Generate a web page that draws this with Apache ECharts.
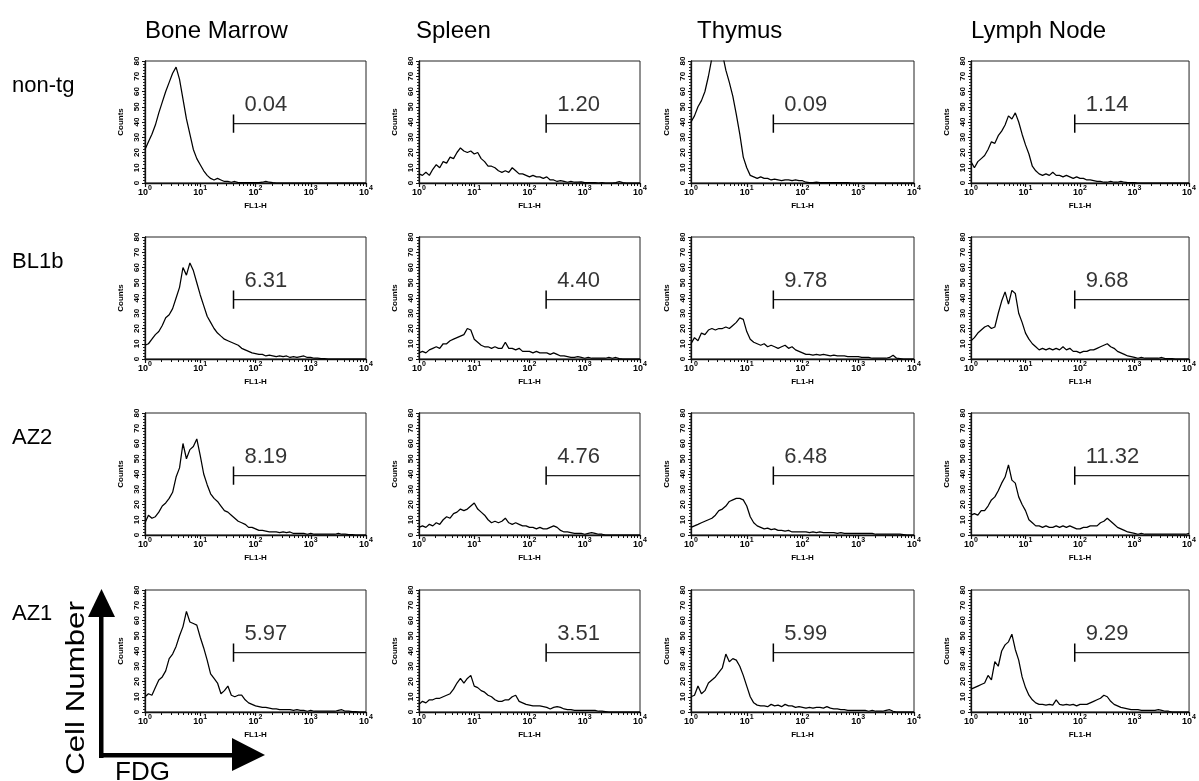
<!DOCTYPE html>
<html><head><meta charset="utf-8">
<script src="https://cdn.jsdelivr.net/npm/echarts@6/dist/echarts.min.js"></script>
<style>html,body{margin:0;padding:0;background:#fff}#c{width:1199px;height:781px}</style>
</head><body><div id="c"></div>
<script>
// FL1-H channel positions (log scale, 16 bins per decade)
const BINS = [
  1, 1.155, 1.334, 1.540, 1.778, 2.054, 2.371, 2.738, 3.162, 3.652, 4.217, 4.870, 5.623, 6.494, 7.499, 8.660,
  10, 11.55, 13.34, 15.40, 17.78, 20.54, 23.71, 27.38, 31.62, 36.52, 42.17, 48.70, 56.23, 64.94, 74.99, 86.60,
  100, 115.5, 133.4, 154.0, 177.8, 205.4, 237.1, 273.8, 316.2, 365.2, 421.7, 487.0, 562.3, 649.4, 749.9, 866.0,
  1000, 1155, 1334, 1540, 1778, 2054, 2371, 2738, 3162, 3652, 4217, 4870, 5623, 6494, 7499, 8660, 10000
];
const TISSUES = ['Bone Marrow', 'Spleen', 'Thymus', 'Lymph Node'];
const LINES = ['non-tg', 'BL1b', 'AZ2', 'AZ1'];
const GATE_PCT = [
  ['0.04', '1.20', '0.09', '1.14'],
  ['6.31', '4.40', '9.78', '9.68'],
  ['8.19', '4.76', '6.48', '11.32'],
  ['5.97', '3.51', '5.99', '9.29']
];
const GATE_START = [40, 200, 30, 80];
const GATE_LEVEL = 39;
const GATE_TICK_HALF = 6;
const X_MAJOR = [1, 10, 100, 1000, 10000];
const X_MINOR = [2,3,4,5,6,7,8,9, 20,30,40,50,60,70,80,90, 200,300,400,500,600,700,800,900, 2000,3000,4000,5000,6000,7000,8000,9000];
const Y_MIN = 0, Y_MAX = 80, Y_STEP = 10;

// Counts per bin, row = mouse line, column = tissue
const bmNonTg = [22,27,32,38,46,53,60,66,72,76,68,55,42,32,22,16, 12,8,5,3,2,3,2,1,1,0.5,1,0.3,0.3,0.2,0.3,0.2, 0.2,0.3,0.5,1,0.5,0.2,0,0,0,0,0,0,0,0,0,0, 0,0,0,0,0,0,0,0,0,0,0,0,0,0,0,0,0];
const spNonTg = [6,5,7,5,9,12,10,14,13,17,16,20,23,21,20,21, 19,20,16,14,11,11,10,8,7,8,7,10,8,6,6,5, 4,5,4,4,3,4,2,2,1,1.5,1,0.5,1,0.5,0.5,0.8, 0.3,0.2,0.2,0.2,0,0.2,0,0,0,0.3,1,0.3,0,0,0,0,0];
const thNonTg = [40,44,50,54,60,70,82,86,84,85,74,66,57,45,32,17, 10,5,4,3,4,3,3,2,2.5,2,1.5,2,2,1.5,2,1.5, 1.5,0.5,0.3,0.3,0.5,0.3,0.3,0.2,0.2,0.3,0.2,0.2,0.3,0.2,0,0, 0,0,0,0,0,0,0,0,0,0,0,0,0,0,0,0,0];
const lnNonTg = [14,10,14,16,18,22,27,26,31,34,38,44,42,46,40,32, 25,19,11,8,6,5,6,5,7,5,5,4,5,4,3,4, 3,3,2,2,1.5,1,1,0.5,0.5,1,0.5,0.5,1,0.5,0.3,0.3, 0.2,0,0,0,0,0,0,0,0,0,0,0,0,0,0,0,0];

const bmBL1b = [9,10,13,16,18,22,27,29,33,40,47,60,55,63,58,50, 42,35,28,24,20,17,15,13,12,11,10,9,7,6,5,4, 3.5,3,3,2,2.5,2,1.5,2,1.5,2,1,1.5,1,1.5,2,1, 1,0.5,0.5,0.3,0.2,0,0,0,0,0,0,0,0,0,0,0,0];
const spBL1b = [4,5,4,6,7,8,7,10,10,12,13,14,15,16,20,19, 13,11,9,8,8,7,8,7,7,11,7,7,6,7,5,5, 5,4,5,4,4,4,3,4,3,2,2,1.5,1,1,1.5,1, 0.5,1,0.5,0.5,0.5,0.5,0.5,1,0.5,1,0.3,0,0,0,0,0,0];
const thBL1b = [10,14,12,17,16,19,20,19,20,20,21,20,22,24,27,26, 18,13,11,10,9,10,8,9,8,7,8,9,7,8,6,5, 4,3,3,2.5,3,2.5,3,2.5,2,2.5,2,2,2,1.5,1.5,1.5, 1.5,1,1,1,0.5,0.5,0.5,0.5,0.5,1,2.5,0.5,0.3,0,0,0,0];
const lnBL1b = [12,14,17,19,21,22,20,21,30,38,44,36,45,43,30,24, 17,13,10,8,6,7,6,7,6,7,6,8,6,7,5,5, 4,5,5,6,6,7,8,9,10,8,7,5,4,3,2,1.5, 1,0.5,1,0.5,0.5,0.5,0.5,0.5,1,0.3,0.3,0.3,0,0,0,0,0];

const bmAZ2 = [8,13,11,12,15,19,21,24,28,38,44,60,50,56,58,63, 52,40,33,27,24,22,19,16,15,13,11,9,8,7,5,5, 4,3,3,2.5,2,2,2,1.5,2,1.5,2,1,1,1,1,0.5, 1,0.5,0.5,0.5,0.5,0.5,0.5,0.5,1,0.5,0.5,0.3,0.3,0,0,0,0];
const spAZ2 = [5,6,5,7,6,8,7,10,12,11,14,15,17,16,17,19, 21,17,15,13,10,8,9,8,9,11,8,7,8,7,6,6, 5,5,4,5,4,4,5,6,5,3,2,2,1.5,1,1,1, 0.5,1,1.5,1,0.5,0.5,0,0,0,0,0,0,0,0,0,0,0];
const thAZ2 = [5,6,7,8,9,10,11,13,16,17,19,22,23,24,24,23, 19,12,8,6,5,4,4.5,3.5,4,3,3,2.5,3,2,2,2, 2,2,1.5,2,1.5,2,1.5,1.5,1.5,1.5,1,1.5,1,1,1,1, 1,1,1,1,1,0.5,0.5,0.5,0.5,0.5,0.5,0.5,0.5,0.3,0,0,0];
const lnAZ2 = [13,14,13,16,16,19,23,25,29,34,38,46,36,34,25,20, 16,10,8,6,6,5,6,5,5,6,5,6,5,6,5,4, 4,5,5,6,6,6,8,9,11,9,7,5,4,3,2,1.5, 1,0.5,1,0.5,0.5,0.5,0.5,0.5,0.5,0.5,0.5,0.5,0.5,0.5,0.5,0.5,1];

const bmAZ1 = [10,12,11,16,21,23,27,35,38,43,50,56,66,59,58,57, 49,42,34,25,22,19,12,14,17,11,10,11,11,8,6,5, 4,3.5,3,3,2.5,2,2,1.5,1.5,1.5,1.5,1,1.5,1,1,0.5, 1,0.5,0.5,0.5,0.5,0.5,0.5,0.5,1,1.5,0.5,0.5,0.3,0.3,0,0,0];
const spAZ1 = [5,7,6,8,8,9,9,10,11,12,15,19,22,19,22,24, 17,16,14,13,11,10,8,7,7,8,8,10,11,7,6,5, 4.5,4,4,4,3.5,3,2,3,3.5,3,2,1.5,1.5,1,1,1, 1,1,1,1,0.5,0.5,0.3,0,0,0,0,0,0,0,0,0,0];
const thAZ1 = [10,11,17,12,14,19,21,23,26,29,38,33,35,34,30,24, 17,10,6,4.5,4,4,3.5,5,4,4.5,3.5,5,4,4,3,3.5, 3,2.5,3,2.5,3,3,2.5,3.5,2.5,2,2,1.5,1.5,1,1,1, 1,1,1,0.5,1,0.5,0.5,0.5,1,1.5,0.5,0,0,0,0,0,0];
const lnAZ1 = [15,16,17,18,19,24,21,33,30,40,44,46,51,41,34,23, 16,11,8,6,5,5,4.5,5,4.5,8,5,4.5,5,4.5,5,4, 5,5,5,6,7,8,9,11,10,7,5,4,3,2.5,2,1.5, 1.5,1.5,1,1,1,1,1,1.5,1,0.5,0.5,0,0,0,0,0,0];

const HIST = [
  [bmNonTg, spNonTg, thNonTg, lnNonTg],
  [bmBL1b, spBL1b, thBL1b, lnBL1b],
  [bmAZ2, spAZ2, thAZ2, lnAZ2],
  [bmAZ1, spAZ1, thAZ1, lnAZ1]
];

// ---------- layout ----------
const GRID_LEFT = [145, 419, 691, 971];
const GRID_WIDTH = [221, 221, 223, 220];
const GRID_TOP = [61, 237, 413, 590];
const GRID_HEIGHT = 122;
const FONT = 'Arial, "Liberation Sans", Helvetica, sans-serif';
const INK = '#000';

const grids = [], xAxes = [], yAxes = [], series = [];
let p = 0;
for (let r = 0; r < 4; r++) {
  for (let c = 0; c < 4; c++) {
    grids.push({
      left: GRID_LEFT[c], top: GRID_TOP[r], width: GRID_WIDTH[c], height: GRID_HEIGHT,
      show: true, borderColor: '#222', borderWidth: 1, backgroundColor: 'transparent'
    });
    // main log axis
    xAxes.push({
      gridIndex: p, type: 'log', logBase: 10, min: X_MAJOR[0], max: X_MAJOR[X_MAJOR.length - 1],
      splitNumber: 4,
      name: 'FL1-H', nameLocation: 'middle', nameGap: 19,
      nameTextStyle: { fontSize: 8, fontWeight: 'bold', color: INK, fontFamily: FONT },
      axisLine: { show: true, lineStyle: { color: '#111', width: 1.3 } },
      axisTick: { show: true, length: 4, lineStyle: { color: '#111', width: 1.2 } },
      minorTick: { show: false },
      splitLine: { show: false },
      axisLabel: {
        margin: 2, showMinLabel: true, showMaxLabel: true,
        formatter: function (v) {
          const e = Math.round(Math.log10(v));
          return '{b|10}{s|' + e + '}';
        },
        rich: {
          b: { fontSize: 9, fontWeight: 'bold', color: INK, fontFamily: FONT },
          s: { fontSize: 7, fontWeight: 'bold', color: INK, fontFamily: FONT, padding: [0, 0, 8, 0] }
        }
      }
    });
    // overlay axis carrying the minor decade ticks (2..9 x 10^k), in log10 units
    xAxes.push({
      gridIndex: p, type: 'value', min: 0, max: 4, position: 'bottom',
      axisLine: { show: false, onZero: false }, axisLabel: { show: false }, splitLine: { show: false },
      axisTick: { show: true, length: 3, lineStyle: { color: '#111', width: 1 },
        customValues: X_MINOR.map(v => Math.log10(v)) }
    });
    yAxes.push({
      gridIndex: p, type: 'value', min: Y_MIN, max: Y_MAX, interval: Y_STEP,
      name: 'Counts', nameLocation: 'middle', nameGap: 20, nameRotate: 90,
      nameTextStyle: { fontSize: 8, fontWeight: 'bold', color: INK, fontFamily: FONT },
      axisLine: { show: true, lineStyle: { color: '#111', width: 1.3 } },
      axisTick: { show: true, length: 3, lineStyle: { color: '#111' } },
      minorTick: { show: true, splitNumber: 5, length: 2, lineStyle: { color: '#222' } },
      splitLine: { show: false },
      axisLabel: { rotate: 90, margin: 4, fontSize: 8, fontWeight: 'bold', color: INK, fontFamily: FONT }
    });

    const vals = HIST[r][c];
    series.push({
      type: 'line', xAxisIndex: 2 * p, yAxisIndex: p,
      data: BINS.map((x, k) => [x, vals[k]]),
      showSymbol: false, symbol: 'none', clip: true,
      lineStyle: { color: '#000', width: 1.25 }
    });
    const g = GATE_START[c];
    series.push({
      type: 'line', xAxisIndex: 2 * p, yAxisIndex: p,
      data: [[g, GATE_LEVEL], [X_MAJOR[X_MAJOR.length - 1], GATE_LEVEL]],
      symbol: 'none', lineStyle: { color: '#222', width: 1.2 }
    });
    series.push({
      type: 'line', xAxisIndex: 2 * p, yAxisIndex: p,
      data: [[g, GATE_LEVEL - GATE_TICK_HALF], [g, GATE_LEVEL + GATE_TICK_HALF]],
      symbol: 'none', lineStyle: { color: '#000', width: 1.5 }
    });
    series.push({
      type: 'scatter', xAxisIndex: 2 * p, yAxisIndex: p,
      data: [[g, GATE_LEVEL]], symbolSize: 0,
      itemStyle: { color: 'transparent' },
      label: { show: true, formatter: GATE_PCT[r][c], position: [11, -30],
        fontSize: 22, color: '#000', fontFamily: FONT }
    });
    p++;
  }
}

// ---------- annotation text & big arrows ----------
const TITLE_X = [145, 416, 697, 971];
const ROW_Y = [86, 262, 438, 614];
const graphic = [];
TISSUES.forEach((t, i) => graphic.push({
  type: 'text', x: TITLE_X[i], y: 31,
  style: { text: t, fontSize: 24, fontFamily: FONT, fill: '#000', textVerticalAlign: 'middle' }
}));
LINES.forEach((t, i) => graphic.push({
  type: 'text', x: 12, y: ROW_Y[i],
  style: { text: t, fontSize: 22, fontFamily: FONT, fill: '#000', textVerticalAlign: 'middle' }
}));
graphic.push({ type: 'rect', shape: { x: 99, y: 612, width: 4.5, height: 146 }, style: { fill: '#000' } });
graphic.push({ type: 'polygon', shape: { points: [[88, 617], [115, 617], [101.5, 589]] }, style: { fill: '#000' } });
graphic.push({ type: 'rect', shape: { x: 99, y: 753, width: 136, height: 4.5 }, style: { fill: '#000' } });
graphic.push({ type: 'polygon', shape: { points: [[232, 738], [232, 771], [265, 755]] }, style: { fill: '#000' } });
graphic.push({
  type: 'text', x: 77, y: 688, rotation: Math.PI / 2, scaleX: 1.25,
  style: { text: 'Cell Number', fontSize: 25, fontFamily: FONT, fill: '#000', textAlign: 'center', textVerticalAlign: 'middle' }
});
graphic.push({
  type: 'text', x: 115, y: 760,
  style: { text: 'FDG', fontSize: 26, fontFamily: FONT, fill: '#000' }
});

const chart = echarts.init(document.getElementById('c'), null, { renderer: 'canvas' });
chart.setOption({
  animation: false,
  backgroundColor: '#fff',
  grid: grids, xAxis: xAxes, yAxis: yAxes, series: series, graphic: graphic
});
</script></body></html>
